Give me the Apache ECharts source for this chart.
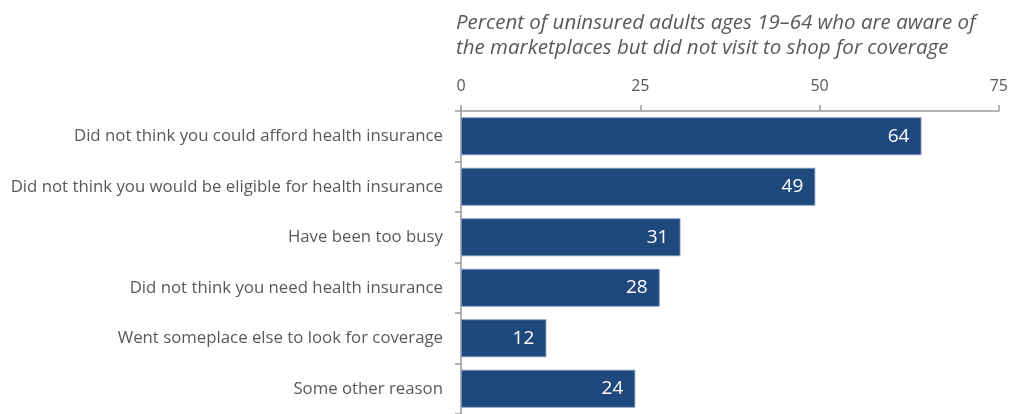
<!DOCTYPE html>
<html>
<head>
<meta charset="utf-8">
<script src="https://cdn.jsdelivr.net/npm/echarts@6/dist/echarts.min.js"></script>
<style>
html,body{margin:0;padding:0;background:#fff;}
#chart{width:1011px;height:414px;}
</style>
</head>
<body>
<div id="chart"></div>
<script>
const categories = [
  "Did not think you could afford health insurance",
  "Did not think you would be eligible for health insurance",
  "Have been too busy",
  "Did not think you need health insurance",
  "Went someplace else to look for coverage",
  "Some other reason"
];
const values = [64.2, 49.4, 30.6, 27.7, 11.9, 24.3];
const xTicks = [0, 25, 50, 75];
const titleText = "Percent of uninsured adults ages 19\u201364 who are aware of\nthe marketplaces but did not visit to shop for coverage";

const chart = echarts.init(document.getElementById('chart'), null, {renderer: 'canvas'});
const grey = '#595959';
const fontFam = '"Open Sans", sans-serif';
chart.setOption({
  animation: false,
  backgroundColor: '#ffffff',
  title: {
    text: titleText,
    left: 451,
    top: 6,
    textStyle: {
      fontFamily: fontFam,
      fontStyle: 'italic',
      fontWeight: 'normal',
      fontSize: 20.5,
      color: grey,
      lineHeight: 25
    }
  },
  grid: {left: 461, right: 10.5, top: 111, bottom: -2.4, containLabel: false},
  xAxis: {
    type: 'value',
    position: 'top',
    min: xTicks[0],
    max: xTicks[xTicks.length - 1],
    interval: xTicks[1] - xTicks[0],
    splitLine: {show: false},
    axisLine: {show: true, lineStyle: {color: '#9a9a9a', width: 1.5}},
    axisTick: {show: true, length: 6, lineStyle: {color: '#9a9a9a', width: 1.5}},
    axisLabel: {color: grey, fontFamily: fontFam, fontSize: 16, margin: 17}
  },
  yAxis: {
    type: 'category',
    inverse: true,
    data: categories,
    axisLine: {show: true, lineStyle: {color: '#9a9a9a', width: 1.5}},
    axisTick: {show: true, length: 6, lineStyle: {color: '#9a9a9a', width: 1.5}},
    axisLabel: {color: grey, fontFamily: fontFam, fontSize: 16.8, margin: 18}
  },
  series: [{
    type: 'bar',
    data: values,
    barCategoryGap: '25%',
    itemStyle: {color: '#1f497d', borderColor: '#7d98bc', borderWidth: 0.8},
    label: {
      show: true,
      position: 'insideRight',
      distance: 12,
      color: '#ffffff',
      fontFamily: fontFam,
      fontSize: 19,
      formatter: p => Math.round(p.value)
    }
  }]
});
</script>
</body>
</html>
